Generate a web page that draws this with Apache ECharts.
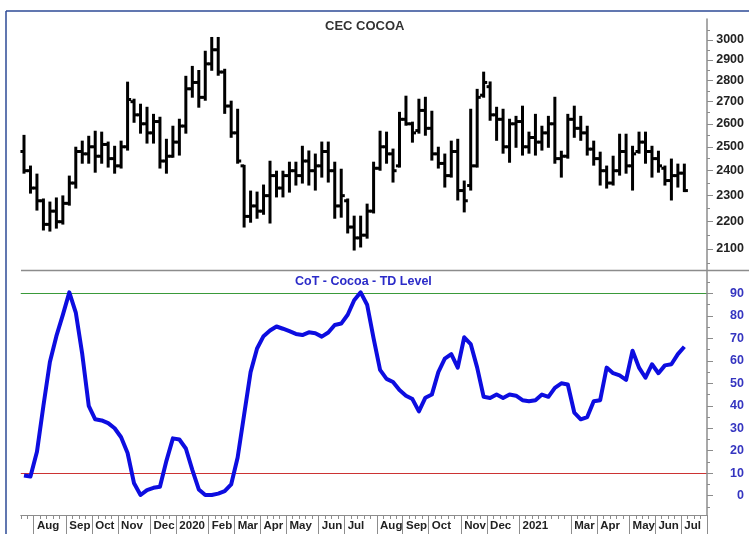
<!DOCTYPE html>
<html>
<head>
<meta charset="UTF-8">
<title>CEC COCOA</title>
<script src="https://cdn.jsdelivr.net/npm/echarts@6.0.0/dist/echarts.min.js"></script>
<style>
body { margin: 0; background: #fff; }
#cocoaDiv { width: 749px; height: 534px; }
</style>
</head>
<body>
	<div id="cocoaDiv"></div>
	<script type="text/javascript">
		// weekly bars, one per Friday from 2019-07-19 to 2021-07-02
		var opens = [2480, 2400, 2330, 2280, 2190, 2240, 2200, 2270, 2350, 2480,
				2470, 2500, 2460, 2510, 2450, 2420, 2500, 2700, 2640, 2600,
				2560, 2610, 2440, 2460, 2520, 2590, 2760, 2790, 2720, 2880,
				2950, 2840, 2680, 2560, 2420, 2220, 2260, 2240, 2300, 2380,
				2330, 2380, 2400, 2380, 2440, 2400, 2420, 2480, 2400, 2260,
				2280, 2180, 2140, 2150, 2240, 2410, 2500, 2470, 2420, 2620,
				2600, 2570, 2660, 2580, 2470, 2430, 2380, 2480, 2320, 2340,
				2420, 2730, 2770, 2640, 2620, 2500, 2600, 2610, 2500, 2540,
				2520, 2560, 2600, 2450, 2460, 2620, 2580, 2560, 2490, 2450,
				2400, 2350, 2400, 2480, 2420, 2480, 2520, 2480, 2450, 2410,
				2360, 2380, 2390 ];
		var highs = [2547, 2417, 2384, 2285, 2273, 2289, 2297, 2376, 2496, 2522,
				2543, 2565, 2561, 2518, 2500, 2522, 2789, 2709, 2686, 2672,
				2640, 2627, 2530, 2587, 2618, 2817, 2865, 2845, 2940, 3010,
				3010, 2851, 2700, 2663, 2420, 2316, 2312, 2340, 2437, 2396,
				2396, 2433, 2433, 2500, 2480, 2467, 2518, 2518, 2433, 2404,
				2285, 2219, 2219, 2265, 2433, 2565, 2561, 2488, 2649, 2723,
				2605, 2709, 2718, 2654, 2496, 2467, 2522, 2530, 2356, 2663,
				2755, 2837, 2790, 2672, 2663, 2618, 2631, 2677, 2561, 2640,
				2587, 2631, 2718, 2479, 2640, 2677, 2631, 2587, 2522, 2475,
				2417, 2458, 2552, 2552, 2500, 2561, 2561, 2500, 2479, 2417,
				2446, 2425, 2425 ];
		var lows = [2392, 2312, 2246, 2171, 2167, 2178, 2193, 2265, 2332, 2433,
				2433, 2396, 2433, 2417, 2392, 2413, 2488, 2609, 2561, 2518,
				2518, 2413, 2392, 2458, 2467, 2561, 2723, 2677, 2709, 2851,
				2827, 2649, 2543, 2433, 2182, 2200, 2215, 2230, 2197, 2297,
				2297, 2316, 2344, 2352, 2344, 2324, 2376, 2356, 2215, 2219,
				2160, 2098, 2109, 2141, 2235, 2404, 2433, 2356, 2417, 2596,
				2522, 2561, 2552, 2446, 2413, 2336, 2376, 2285, 2239, 2324,
				2417, 2723, 2618, 2530, 2475, 2437, 2500, 2467, 2475, 2467,
				2488, 2500, 2433, 2376, 2454, 2543, 2530, 2467, 2425, 2344,
				2332, 2344, 2384, 2392, 2324, 2475, 2433, 2376, 2396, 2344,
				2285, 2336, 2318 ];
		var closes = [2400, 2330, 2280, 2190, 2240, 2200, 2270, 2350, 2480, 2470,
				2500, 2460, 2510, 2450, 2420, 2500, 2710, 2640, 2600, 2560,
				2610, 2440, 2460, 2520, 2590, 2760, 2790, 2720, 2880, 2950,
				2840, 2680, 2560, 2440, 2220, 2260, 2240, 2300, 2380, 2330,
				2380, 2400, 2380, 2440, 2400, 2420, 2480, 2400, 2260, 2300,
				2180, 2140, 2150, 2240, 2410, 2500, 2470, 2400, 2620, 2600,
				2560, 2660, 2580, 2470, 2430, 2380, 2480, 2320, 2280, 2420,
				2720, 2790, 2640, 2620, 2500, 2600, 2610, 2500, 2540, 2520,
				2560, 2600, 2450, 2460, 2620, 2580, 2560, 2490, 2450, 2400,
				2350, 2400, 2480, 2420, 2470, 2520, 2480, 2450, 2420, 2360,
				2380, 2390, 2320 ];
		// CoT - TD Level
		var tdLevel = [9, 8.5, 19.5, 40, 59.5, 71, 80.5, 90.5, 81.5, 63,
				40, 34, 33.5, 32.3, 30, 26, 19, 5.5, 0.3, 2.5,
				3.5, 4, 15.5, 25.5, 25, 21, 11.5, 2.8, 0.3, 0.3,
				0.9, 2, 5, 17, 36, 55, 65.5, 71, 73.5, 75.3,
				74.3, 73.2, 72, 71.5, 72.7, 72.3, 70.8, 72.6, 76, 76.6,
				80.5, 87, 90.5, 85, 70, 56, 52, 50.6, 47, 44.5,
				43, 37.5, 43.6, 45, 55, 61, 63, 57, 70.5, 67.5,
				57, 44, 43.5, 45, 43.5, 45, 44.5, 42.5, 42, 42.5,
				45, 44, 48, 50, 49.5, 37, 34, 35, 42, 42.5,
				57, 54.5, 53.5, 51.5, 64.5, 57, 52.5, 58.5, 54.5, 58,
				58.5, 63, 66.3 ];
		var upperLevel = 90;
		var lowerLevel = 10;
		var monthLabels = {
			2 : 'Aug', 7 : 'Sep', 11 : 'Oct', 15 : 'Nov', 20 : 'Dec', 24 : '2020',
			29 : 'Feb', 33 : 'Mar', 37 : 'Apr', 41 : 'May', 46 : 'Jun', 50 : 'Jul',
			55 : 'Aug', 59 : 'Sep', 63 : 'Oct', 68 : 'Nov', 72 : 'Dec', 77 : '2021',
			85 : 'Mar', 89 : 'Apr', 94 : 'May', 98 : 'Jun', 102 : 'Jul'
		};
		var priceTicks = [2100, 2200, 2300, 2400, 2500, 2600, 2700, 2800, 2900, 3000];
		var priceMinorTicks = [2050, 2150, 2250, 2350, 2450, 2550, 2650, 2750, 2850, 2950, 3050];
		var levelTicks = [0, 10, 20, 30, 40, 50, 60, 70, 80, 90];
		var levelMinorTicks = [-5, 5, 15, 25, 35, 45, 55, 65, 75, 85, 95];
		var weekCount = 106; // axis runs a few weeks past the last bar

		var weeks = [];
		var day = new Date(2019, 6, 19);
		for (var i = 0; i < weekCount; i++) {
			weeks.push(day.getFullYear() + '-' + (day.getMonth() + 1) + '-' + day.getDate());
			day.setDate(day.getDate() + 7);
		}

		// price panel is drawn on a log scale
		function ln(v) {
			return Math.log(v);
		}
		var barData = [];
		for (var i = 0; i < opens.length; i++) {
			barData.push([ i, ln(opens[i]), ln(highs[i]), ln(lows[i]), ln(closes[i]) ]);
		}

		var font = 'Liberation Sans, Arial, sans-serif';
		var gridLeft = 20.76;
		var gridRight = 42;
		var levelMin = -8.6;
		var levelMax = 100;

		function renderBar(params, api) {
			var x = api.value(0);
			var op = api.coord([ x, api.value(1) ]);
			var hi = api.coord([ x, api.value(2) ]);
			var lo = api.coord([ x, api.value(3) ]);
			var cl = api.coord([ x, api.value(4) ]);
			var w = api.size([ 1, 0 ])[0] * 0.55;
			var style = {
				stroke : '#000',
				lineWidth : 3
			};
			return {
				type : 'group',
				children : [ {
					type : 'line',
					shape : { x1 : hi[0], y1 : hi[1] - 1, x2 : lo[0], y2 : lo[1] + 1 },
					style : style
				}, {
					type : 'line',
					shape : { x1 : op[0] - w, y1 : op[1], x2 : op[0], y2 : op[1] },
					style : style
				}, {
					type : 'line',
					shape : { x1 : cl[0], y1 : cl[1], x2 : cl[0] + w, y2 : cl[1] },
					style : style
				} ]
			};
		}

		function isMonthStart(index) {
			return monthLabels[index] !== undefined;
		}

		// a hidden axis of the lower panel that only draws one coloured level line
		function levelAxis(level, color) {
			return {
				gridIndex : 1,
				type : 'value',
				position : 'right',
				min : levelMin,
				max : levelMax,
				axisLine : { show : false },
				axisTick : { show : false, customValues : [ level ] },
				axisLabel : { show : false },
				splitLine : { show : true, lineStyle : { color : color, width : 1.2, type : 'solid', opacity : 1 } }
			};
		}

		var cocoaChart = echarts.init(document.getElementById('cocoaDiv'));
		cocoaChart.setOption({
			animation : false,
			backgroundColor : '#fff',
			title : [ {
				text : 'CEC COCOA',
				left : 325,
				top : 20,
				padding : 0,
				textStyle : { fontFamily : font, fontSize : 13, fontWeight : 'bold', color : '#333' }
			}, {
				text : 'CoT - Cocoa - TD Level',
				left : 295,
				top : 275,
				padding : 0,
				textStyle : { fontFamily : font, fontSize : 12.5, fontWeight : 'bold', color : '#2b2bc8' }
			} ],
			graphic : [ {
				type : 'line',
				shape : { x1 : 6, y1 : 11, x2 : 749, y2 : 11 },
				style : { stroke : '#2c4a96', lineWidth : 1.5 }
			}, {
				type : 'line',
				shape : { x1 : 6, y1 : 11, x2 : 6, y2 : 534 },
				style : { stroke : '#2c4a96', lineWidth : 1.5 }
			}, {
				type : 'line',
				shape : { x1 : 21, y1 : 270.5, x2 : 749, y2 : 270.5 },
				style : { stroke : '#8c8c8c', lineWidth : 1.5 }
			} ],
			grid : [ {
				left : gridLeft,
				right : gridRight,
				top : 19,
				height : 251
			}, {
				left : gridLeft,
				right : gridRight,
				top : 271,
				height : 244
			} ],
			xAxis : [ {
				gridIndex : 0,
				type : 'category',
				data : weeks,
				boundaryGap : true,
				show : false
			}, {
				gridIndex : 1,
				type : 'category',
				position : 'bottom',
				data : weeks,
				boundaryGap : true,
				axisLine : { show : true, onZero : false, lineStyle : { color : '#8c8c8c', width : 1 } },
				axisTick : { show : true, length : 4, interval : 0, lineStyle : { color : '#8c8c8c', width : 1 } },
				axisLabel : { show : false }
			}, {
				gridIndex : 1,
				type : 'category',
				position : 'bottom',
				data : weeks,
				boundaryGap : true,
				axisLine : { show : false, onZero : false },
				axisTick : {
					show : true,
					length : 19,
					interval : isMonthStart,
					lineStyle : { color : '#8c8c8c', width : 1 }
				},
				axisLabel : {
					interval : isMonthStart,
					formatter : function(value, index) {
						return monthLabels[index];
					},
					align : 'left',
					margin : 5,
					fontFamily : font,
					fontSize : 11.5,
					fontWeight : 'bold',
					color : '#222'
				}
			} ],
			yAxis : [ {
				gridIndex : 0,
				type : 'value',
				position : 'right',
				min : ln(2026),
				max : ln(3109),
				axisLine : { show : true, lineStyle : { color : '#8c8c8c', width : 1.5 } },
				axisTick : { show : true, length : 6, customValues : priceTicks.map(ln), lineStyle : { color : '#8c8c8c' } },
				axisLabel : {
					customValues : priceTicks.map(ln),
					formatter : function(v) {
						return Math.round(Math.exp(v));
					},
					align : 'right',
					margin : 37,
					fontFamily : font,
					fontSize : 12.5,
					fontWeight : 'bold',
					color : '#222'
				},
				splitLine : { show : false }
			}, {
				gridIndex : 0,
				type : 'value',
				position : 'right',
				min : ln(2026),
				max : ln(3109),
				axisLine : { show : false },
				axisTick : { show : true, length : 3, customValues : priceMinorTicks.map(ln), lineStyle : { color : '#8c8c8c' } },
				axisLabel : { show : false },
				splitLine : { show : false }
			}, {
				gridIndex : 1,
				type : 'value',
				position : 'right',
				min : levelMin,
				max : levelMax,
				axisLine : { show : true, lineStyle : { color : '#8c8c8c', width : 1.5 } },
				axisTick : { show : true, length : 6, customValues : levelTicks, lineStyle : { color : '#8c8c8c' } },
				axisLabel : {
					customValues : levelTicks,
					align : 'right',
					margin : 37,
					fontFamily : font,
					fontSize : 12.5,
					fontWeight : 'bold',
					color : '#3535c0'
				},
				splitLine : { show : false }
			}, {
				gridIndex : 1,
				type : 'value',
				position : 'right',
				min : levelMin,
				max : levelMax,
				axisLine : { show : false },
				axisTick : { show : true, length : 3, customValues : levelMinorTicks, lineStyle : { color : '#8c8c8c' } },
				axisLabel : { show : false },
				splitLine : { show : false }
			}, levelAxis(upperLevel, '#3a9a3a'), levelAxis(lowerLevel, '#cc3333') ],
			series : [ {
				name : 'CEC COCOA',
				type : 'custom',
				xAxisIndex : 0,
				yAxisIndex : 0,
				renderItem : renderBar,
				encode : { x : 0, y : [ 1, 2, 3, 4 ] },
				data : barData
			}, {
				name : 'TD Level',
				type : 'line',
				xAxisIndex : 1,
				yAxisIndex : 2,
				data : tdLevel,
				symbol : 'none',
				lineStyle : { color : '#0d0de0', width : 4, join : 'round' }
			} ]
		});
	</script>
</body>
</html>
